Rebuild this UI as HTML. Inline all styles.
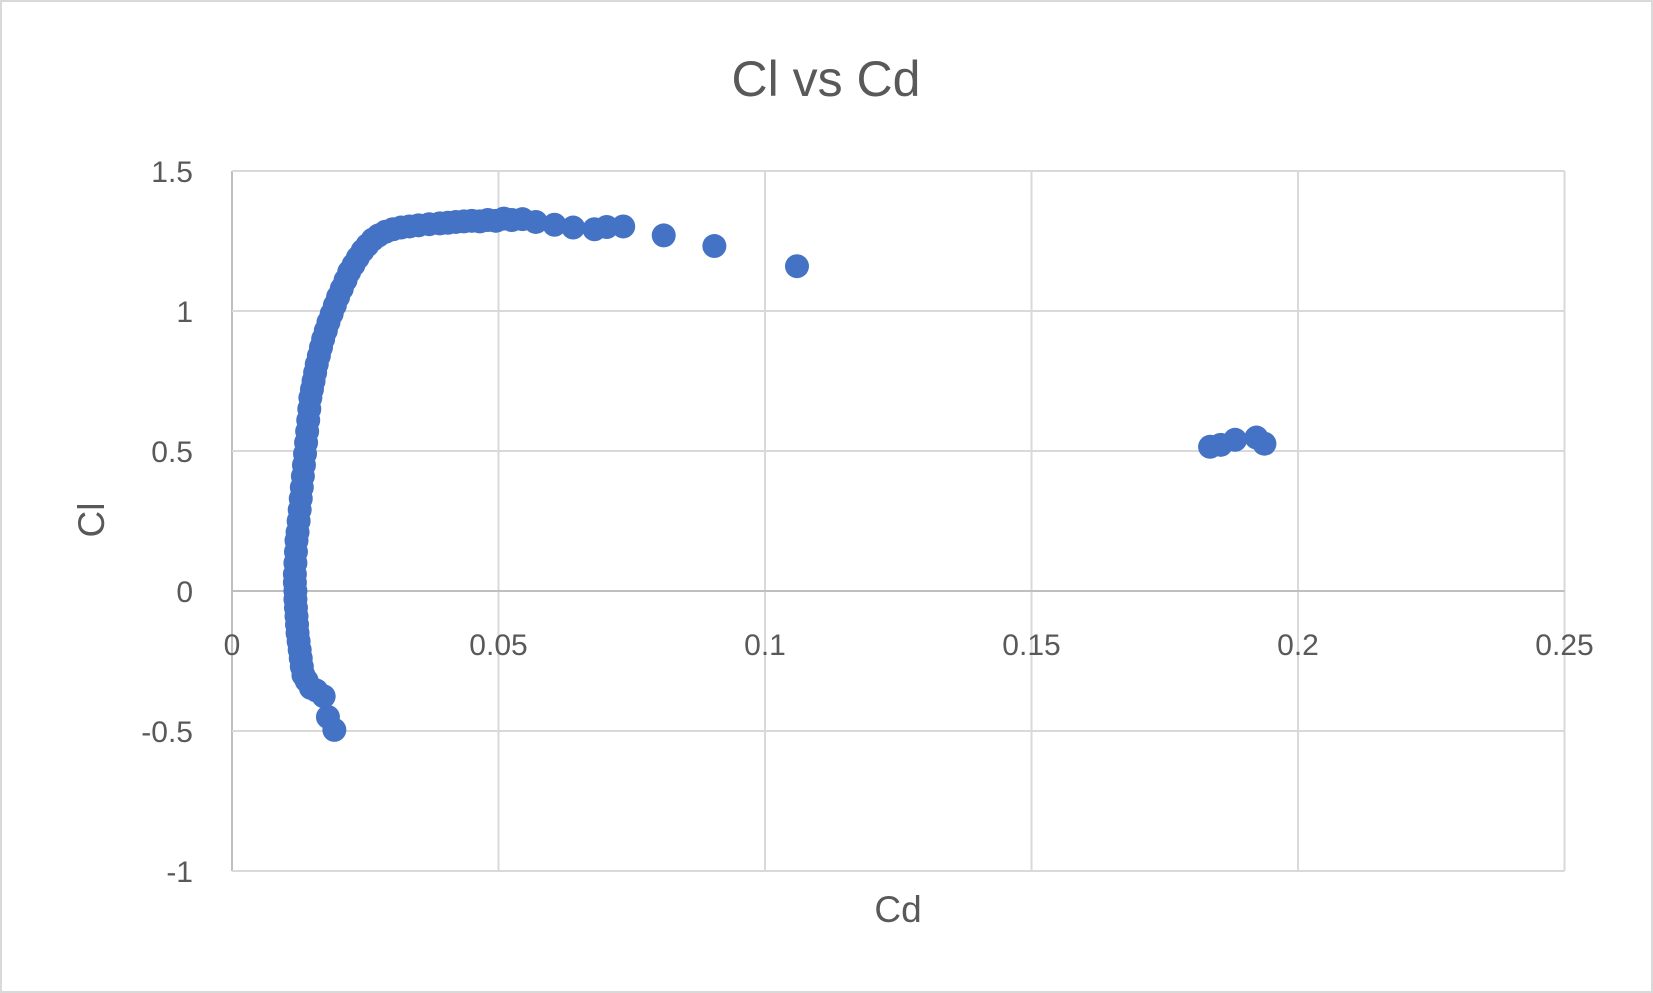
<!DOCTYPE html>
<html><head><meta charset="utf-8"><style>
html,body{margin:0;padding:0;background:#fff}
svg{display:block}
</style></head><body>
<svg width="1653" height="993" viewBox="0 0 1653 993" font-family="Liberation Sans, sans-serif">
<rect x="1" y="1" width="1651" height="991" fill="#fff" stroke="#d9d9d9" stroke-width="2"/>
<text x="826" y="96" text-anchor="middle" font-size="50" fill="#595959">Cl vs Cd</text>
<g id="grid"></g>
<g id="ticks"></g>
<g id="pts"></g>
<text x="898" y="922" text-anchor="middle" font-size="37" fill="#595959">Cd</text>
<text transform="translate(104,520) rotate(-90)" text-anchor="middle" font-size="37" fill="#595959">Cl</text>
</svg>
<script>
const xTicks=[0,0.05,0.1,0.15,0.2,0.25];
const xTickLabels=["0","0.05","0.1","0.15","0.2","0.25"];
const yTicks=[1.5,1,0.5,0,-0.5,-1];
const yTickLabels=["1.5","1","0.5","0","-0.5","-1"];
const cd=[0.0192,0.0180,0.0172,0.0158,0.0148,0.0140,0.0134,0.0131,0.0129,0.0127,0.0125,0.0123,0.0122,0.0121,0.0120,0.0119,0.0119,0.0118,0.0118,0.0119,0.0120,0.0121,0.0123,0.0125,0.0127,0.0129,0.0131,0.0133,0.0135,0.0137,0.0139,0.0141,0.0143,0.0145,0.0147,0.0150,0.0153,0.0156,0.0159,0.0163,0.0167,0.0171,0.0176,0.0181,0.0187,0.0193,0.0199,0.0206,0.0213,0.0220,0.0228,0.0236,0.0245,0.0254,0.0264,0.0275,0.0288,0.0302,0.0317,0.0333,0.0350,0.0370,0.0390,0.0405,0.0420,0.0435,0.0450,0.0465,0.0480,0.0495,0.0510,0.0525,0.0545,0.0570,0.0605,0.0640,0.0680,0.0703,0.0734,0.0810,0.0905,0.1060,0.1835,0.1855,0.1882,0.1922,0.1937];
const cl=[-0.496,-0.450,-0.376,-0.355,-0.346,-0.320,-0.300,-0.270,-0.240,-0.210,-0.180,-0.150,-0.120,-0.090,-0.060,-0.030,0.000,0.030,0.060,0.100,0.140,0.180,0.210,0.250,0.290,0.330,0.370,0.410,0.450,0.490,0.530,0.570,0.610,0.650,0.690,0.720,0.750,0.780,0.810,0.840,0.870,0.900,0.930,0.960,0.990,1.020,1.050,1.080,1.110,1.140,1.165,1.190,1.215,1.235,1.255,1.270,1.283,1.292,1.298,1.302,1.306,1.310,1.313,1.315,1.318,1.320,1.322,1.320,1.325,1.322,1.330,1.325,1.328,1.318,1.308,1.298,1.292,1.300,1.302,1.270,1.232,1.160,0.515,0.522,0.540,0.548,0.526];
const L=232,R=1564.5,T=171,B=871;
const sx=v=>L+(v-0)/(0.25-0)*(R-L);
const sy=v=>B-(v-(-1))/(1.5-(-1))*(B-T);
const NS="http://www.w3.org/2000/svg";
const g=document.getElementById('grid'),tk=document.getElementById('ticks'),pts=document.getElementById('pts');
function mk(tag,attrs,parent){const e=document.createElementNS(NS,tag);for(const k in attrs)e.setAttribute(k,attrs[k]);parent.appendChild(e);return e;}
xTicks.forEach((v,i)=>{
 const ln=mk('line',{x1:sx(v),x2:sx(v),y1:T,y2:B,stroke:i===0?'#bfbfbf':'#d9d9d9','stroke-width':2},g);
 
 
 const t=mk('text',{x:sx(v),y:sy(0)+64,'text-anchor':'middle','font-size':30,fill:'#595959'},tk);
 t.textContent=xTickLabels[i];
 
 
});
yTicks.forEach((v,i)=>{
 const ln=mk('line',{x1:L,x2:R,y1:sy(v),y2:sy(v),stroke:v===0?'#bfbfbf':'#d9d9d9','stroke-width':2},g);
 
 
 const t=mk('text',{x:193,y:sy(v)+11,'text-anchor':'end','font-size':30,fill:'#595959'},tk);
 t.textContent=yTickLabels[i];
 
 
});
cd.forEach((v,i)=>{
 const c=mk('circle',{cx:sx(v),cy:sy(cl[i]),r:12,fill:'#4472c4'},pts);
 
 
});
</script>
</body></html>
